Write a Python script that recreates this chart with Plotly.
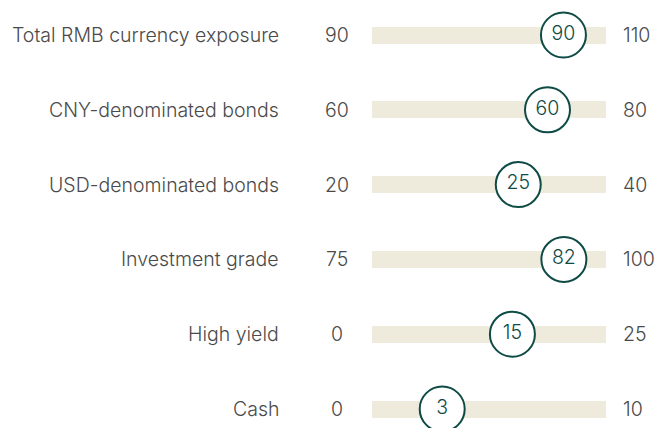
import plotly.graph_objects as go

categories = ["Total RMB currency exposure", "CNY-denominated bonds", "USD-denominated bonds",
              "Investment grade", "High yield", "Cash"]
min_values = [90, 60, 20, 75, 0, 0]
current_values = [90, 60, 25, 82, 15, 3]
max_values = [110, 80, 40, 100, 25, 10]

W, H = 658, 428
BAR_L, BAR_R = 372, 606
span = BAR_R - BAR_L
ROW0, ROWSTEP = 35, 74.8

DARK = "#0f4b45"
GREY = "#4a4a4a"
BEIGE = "#eeebdc"
FONT = "Inter, Roboto, Arial, sans-serif"
FS = 19.5

idx = list(range(len(categories)))
frac = [v / m for v, m in zip(current_values, max_values)]
full = [m / m for m in max_values]

fig = go.Figure()
fig.add_trace(go.Bar(
    y=idx, x=full, base=0, orientation="h", width=17 / ROWSTEP,
    marker=dict(color=BEIGE, line=dict(width=0)), hoverinfo="skip", showlegend=False))
fig.add_trace(go.Scatter(
    y=idx, x=frac, mode="markers+text", text=[str(v) for v in current_values],
    textposition="middle center",
    textfont=dict(family=FONT, size=FS, color=DARK, weight=300),
    marker=dict(size=45, color="white", line=dict(color=DARK, width=2)),
    showlegend=False, hoverinfo="skip", cliponaxis=False))

def px2x(px):
    return (px - BAR_L) / span

for i, (c, mn, mx) in enumerate(zip(categories, min_values, max_values)):
    fig.add_annotation(x=px2x(281), y=i, text=c, showarrow=False, xanchor="right",
                       font=dict(family=FONT, size=FS, color=GREY, weight=300))
    fig.add_annotation(x=px2x(337), y=i, text=str(mn), showarrow=False, xanchor="center",
                       font=dict(family=FONT, size=FS, color=GREY, weight=300))
    fig.add_annotation(x=px2x(621), y=i, text=str(mx), showarrow=False, xanchor="left",
                       font=dict(family=FONT, size=FS, color=GREY, weight=300))

fig.update_layout(
    width=W, height=H, margin=dict(l=0, r=0, t=0, b=0),
    paper_bgcolor="white", plot_bgcolor="white",
    xaxis=dict(range=[px2x(0), px2x(W)], visible=False, fixedrange=True),
    yaxis=dict(range=[5 + (H - (ROW0 + 5 * ROWSTEP)) / ROWSTEP, -ROW0 / ROWSTEP],
               visible=False, fixedrange=True),
    bargap=0,
)
fig.write_html("out.html", config={"displayModeBar": False, "staticPlot": True},
               post_script="document.body.style.margin='0';document.body.style.overflow='hidden';")
